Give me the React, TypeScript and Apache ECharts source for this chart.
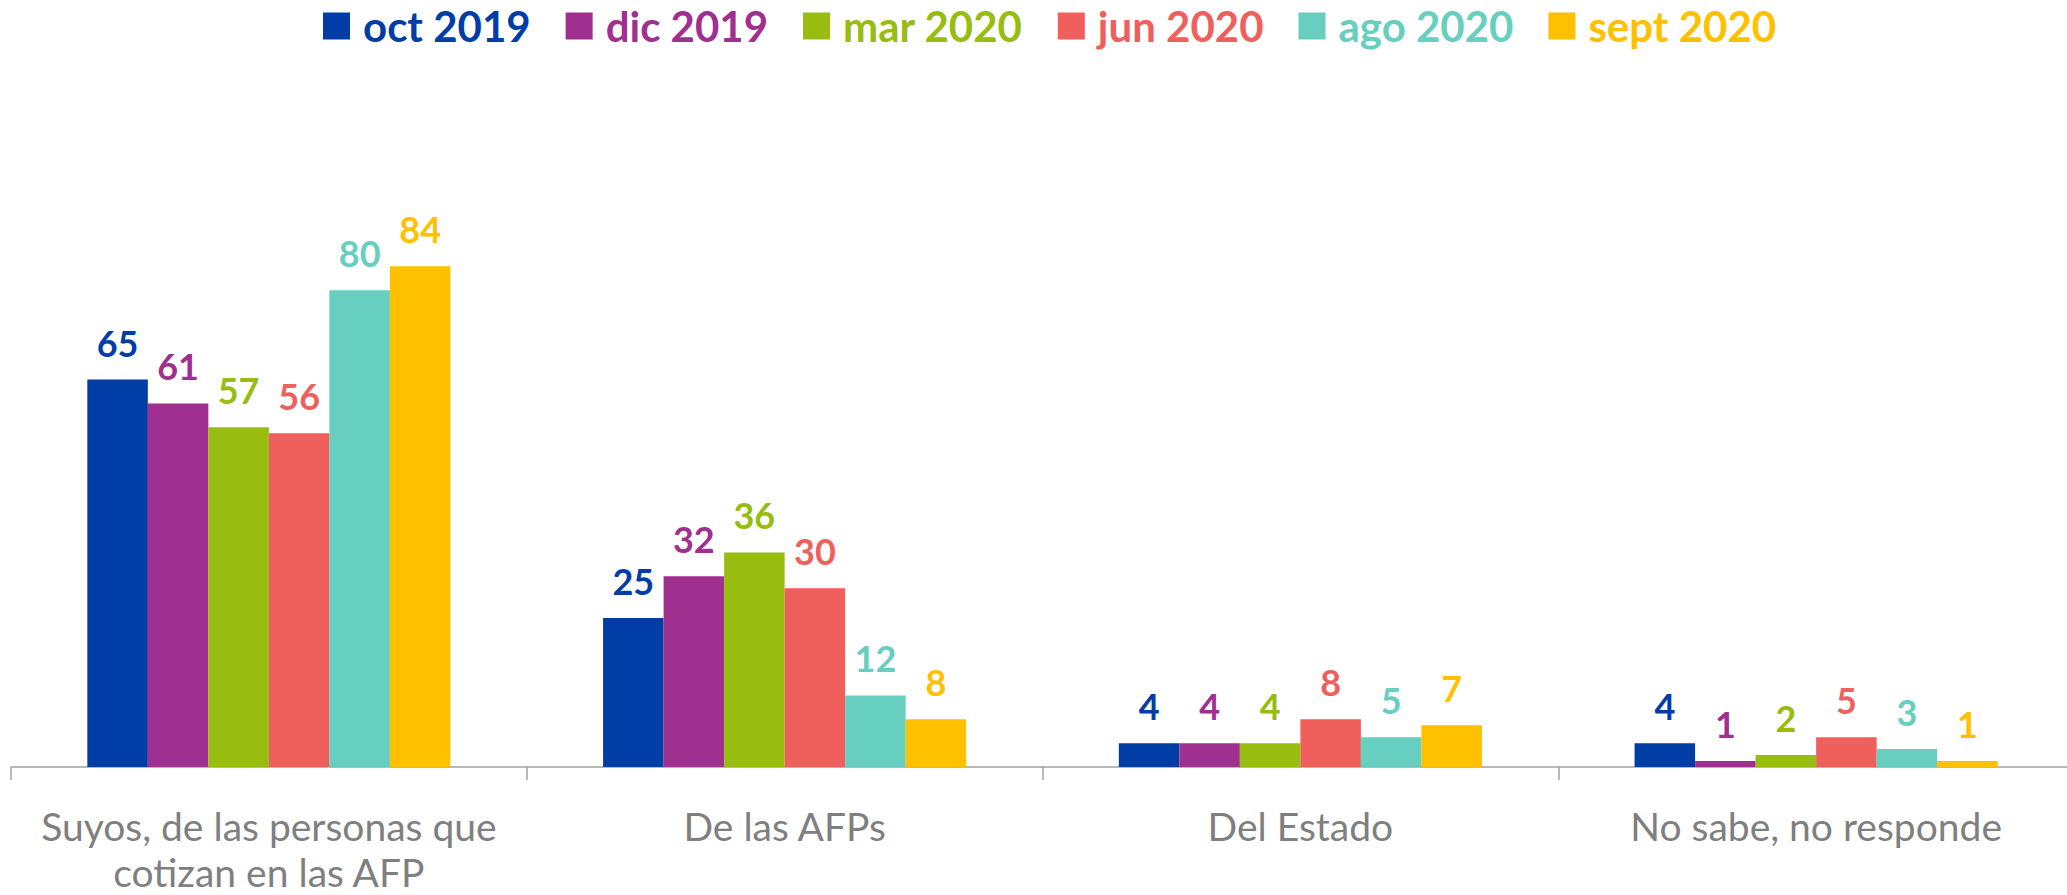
import React, { useEffect, useRef } from "react";
import * as echarts from "echarts";

const categories = [
  "Suyos, de las personas que\ncotizan en las AFP",
  "De las AFPs",
  "Del Estado",
  "No sabe, no responde",
];
const seriesNames = ["oct 2019", "dic 2019", "mar 2020", "jun 2020", "ago 2020", "sept 2020"];
const colors = ["#003DA6", "#A0308F", "#98BC10", "#EF5F5B", "#66CFC0", "#FFC000"];
const oct2019 = [65, 25, 4, 4];
const dic2019 = [61, 32, 4, 1];
const mar2020 = [57, 36, 4, 2];
const jun2020 = [56, 30, 8, 5];
const ago2020 = [80, 12, 5, 3];
const sept2020 = [84, 8, 7, 1];
const seriesValues = [oct2019, dic2019, mar2020, jun2020, ago2020, sept2020];

export default function App() {
  const ref = useRef<HTMLDivElement>(null);
  useEffect(() => {
    document.body.style.margin = "0";
    const chart = echarts.init(ref.current!, null, { renderer: "svg" });
    chart.setOption({
      animation: false,
      backgroundColor: "#ffffff",
      legend: {
        top: 0,
        left: 318,
        icon: "rect",
        itemWidth: 27,
        itemHeight: 27,
        itemGap: 35,
        textStyle: {
          fontFamily: "Lato",
          fontWeight: "bold",
          fontSize: 42,
          padding: [0, 0, 0, 8],
        },
        data: seriesNames.map((n, i) => ({ name: n, textStyle: { color: colors[i] } })),
      },
      grid: { left: 11, width: 2063, top: 171, bottom: 128, containLabel: false },
      xAxis: {
        type: "category",
        data: categories,
        axisLine: { show: true, lineStyle: { color: "#a0a0a0", width: 1.5 } },
        axisTick: { show: true, length: 13, lineStyle: { color: "#a0a0a0", width: 1.5 } },
        axisLabel: {
          color: "#7f7f7f",
          fontFamily: "Lato",
          fontSize: 39,
          lineHeight: 46,
          margin: 36,
          interval: 0,
        },
      },
      yAxis: { type: "value", min: 0, max: 100, show: false, splitLine: { show: false } },
      series: seriesNames.map((n, i) => ({
        name: n,
        type: "bar",
        data: seriesValues[i],
        barGap: "0%",
        barCategoryGap: "29.6%",
        itemStyle: { color: colors[i] },
        label: {
          show: true,
          position: "top",
          distance: 19,
          color: colors[i],
          fontFamily: "Lato",
          fontWeight: "bold",
          fontSize: 36,
        },
      })),
    });
    return () => chart.dispose();
  }, []);
  return (
    <div style={{ width: 2067, height: 895, overflow: "hidden" }}>
      <div ref={ref} style={{ width: 2080, height: 895 }} />
    </div>
  );
}
